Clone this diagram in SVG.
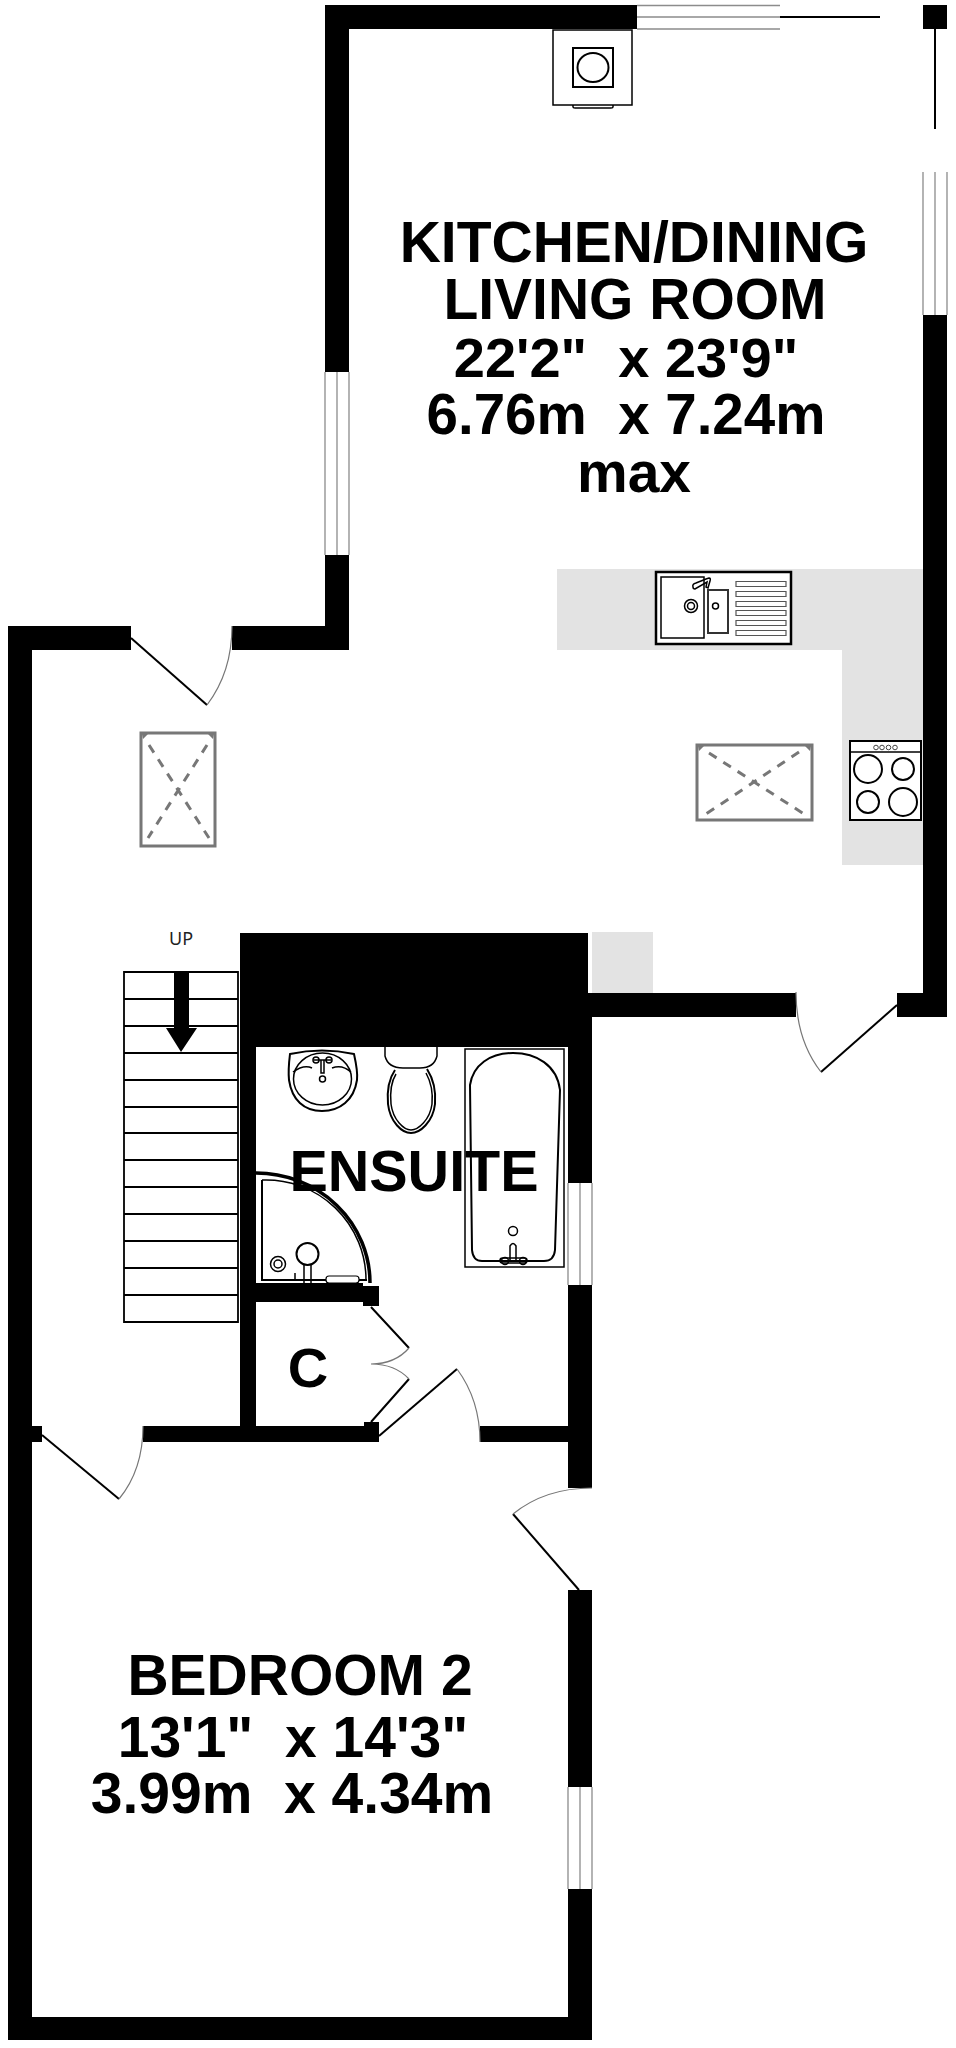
<svg xmlns="http://www.w3.org/2000/svg" width="956" height="2048" viewBox="0 0 956 2048">
<style>
.w{fill:#000}
.g{fill:#e3e3e3}
.win{fill:#fff;stroke:#8c8c8c;stroke-width:1.300}
.leaf{stroke:#000;stroke-width:2;fill:none}
.arc{stroke:#777;stroke-width:1.200;fill:none}
.fx{stroke:#000;stroke-width:1.500;fill:none}
.fxt{stroke:#000;stroke-width:2;fill:none}
.sky{stroke:#777;stroke-width:3;fill:none}
.dash{stroke:#777;stroke-width:3;stroke-dasharray:9 8;fill:none}
text{font-family:"Liberation Sans",Arial,sans-serif;font-weight:700;fill:#000;text-anchor:middle;font-size:56px;white-space:pre}
</style>
<rect width="956" height="2048" fill="#fff"/>
<g id="worktops">
<path class="g" d="M557 569H923V865H842V650H557Z"/>
<rect class="g" x="592" y="932" width="61" height="61"/>
</g>
<g id="walls">
<path class="w" d="M325 5H637V29H349V372H325Z"/>
<path class="w" d="M325 555H349V650H232V626H325Z"/>
<path class="w" d="M8 626H131V650H32V2017H568V1889H592V2040H8Z"/>
<rect class="w" x="32" y="1426" width="10" height="16"/>
<rect class="w" x="923" y="5" width="24" height="24"/>
<path class="w" d="M923 315H947V1017H897V993H923Z"/>
<path class="w" d="M240 933H588V993H796V1017H592V1183H568V1047H256V1283H363V1286H379V1306H363V1302H256V1426H364V1422H379V1442H143V1426H240Z"/>
<rect class="w" x="480" y="1426" width="88" height="16"/>
<path class="w" d="M568 1285H592V1488H568Z"/>
<path class="w" d="M568 1590H592V1787H568Z"/>
</g>
<g id="windows">
<path class="win" d="M325 372V555M349 372V555M337 372V555"/>
<path class="win" d="M637 5.500H780M637 29H780M637 17H780"/>
<path class="win" d="M923 172V315M947 172V315M935 172V315"/>
<path class="win" d="M568 1183V1285M592 1183V1285M580 1183V1285"/>
<path class="win" d="M568 1787V1889M592 1787V1889M580 1787V1889"/>
<path class="leaf" d="M780 17H880M935 29V129"/>
</g>
<g id="doors">
<path class="leaf" d="M131 638L207 705"/><path class="arc" d="M207 705Q232 672 232 626"/>
<path class="leaf" d="M897 1005L821 1072"/><path class="arc" d="M821 1072Q796 1040 796 992"/>
<path class="leaf" d="M42 1435L119 1499"/><path class="arc" d="M119 1499Q143 1470 143 1426"/>
<path class="leaf" d="M379 1436L457 1369"/><path class="arc" d="M457 1369Q480 1400 480 1442"/>
<path class="leaf" d="M579 1590L513 1514"/><path class="arc" d="M513 1514Q545 1488 592 1488"/>
<path class="leaf" d="M371 1307L409 1348M409 1379L371 1422"/><path class="arc" d="M409 1348Q395 1364 371 1364Q395 1364 409 1379"/>
</g>
<g id="stairs">
<path d="M124 972H238V1322H124ZM124 999H238M124 1026H238M124 1053H238M124 1080H238M124 1107H238M124 1133H238M124 1160H238M124 1187H238M124 1214H238M124 1241H238M124 1268H238M124 1295H238" stroke="#000" stroke-width="1.800" fill="#fff"/>
<path class="w" d="M174 972H189V1028H197L181 1052L166 1028H174Z"/>
<text x="181" y="945" style="font-family:'Noto Sans',sans-serif;font-weight:400;font-size:18px;fill:#222">UP</text>
</g>
<g id="boiler">
<rect class="fx" x="553" y="30" width="79" height="75"/>
<rect class="fxt" x="573" y="48" width="40" height="39"/>
<ellipse class="fxt" cx="593" cy="67.500" rx="15.500" ry="14.500"/>
<path class="fx" d="M573 105V107Q573 108 575 108H611Q613 108 613 107V105"/>
</g>
<g id="sink">
<rect x="656" y="572" width="135" height="72" fill="#fff" stroke="#000" stroke-width="2.500"/>
<rect class="fx" x="661" y="577" width="43" height="61"/>
<rect x="708" y="590" width="20" height="43" fill="none" stroke="#333" stroke-width="2"/>
<circle class="fx" cx="691" cy="606" r="6.500"/><circle class="fx" cx="691" cy="606" r="3.500"/>
<circle class="fx" cx="715.500" cy="606" r="3"/>
<path class="fx" d="M693 587Q692 584 696 583L706 579L709 578Q711 578 710 581L708 588L706 587L707 582L695 589Q693 589 693 587Z" fill="#fff"/>
<path stroke="#555" stroke-width="1.200" fill="none" d="M736 581.500h50v5h-50zM736 591.500h50v5h-50zM736 601.500h50v5h-50zM736 610.500h50v5h-50zM736 620.500h50v5h-50zM736 630.500h50v5h-50z"/>
</g>
<g id="hob">
<rect x="850" y="741" width="71" height="79" fill="#fff" stroke="#000" stroke-width="2"/>
<path class="fx" d="M850 752H921"/>
<g stroke="#444" stroke-width="1" fill="none"><circle cx="876" cy="747.500" r="2.300"/><circle cx="882" cy="747.500" r="2.300"/><circle cx="888.500" cy="747.500" r="2.300"/><circle cx="895" cy="747.500" r="2.300"/></g>
<circle class="fxt" cx="868" cy="769" r="14"/><circle class="fxt" cx="903" cy="769" r="11"/>
<circle class="fxt" cx="868" cy="802" r="11"/><circle class="fxt" cx="903" cy="802" r="14"/>
</g>
<g id="skylight-kitchen">
<rect class="sky" x="697" y="745" width="115" height="75"/>
<path class="dash" d="M709 753L804 814M799 752L706 814"/>
<path fill="#777" d="M698 746h6l-5 5zM811 746h-6l5 5z"/>
</g>
<g id="skylight-hall">
<rect class="sky" x="141" y="733" width="74" height="113"/>
<path class="dash" d="M149 745L209 838M207 745L148 838"/>
<path fill="#777" d="M142 734h6l-5 5zM214 734h-6l5 5z"/>
</g>
<g id="basin">
<path class="fxt" d="M290 1054Q322 1047 354 1054Q358 1072 357 1080C354 1100 340 1111 322 1111C304 1111 292 1100 289 1080Q288 1070 290 1054Z"/>
<ellipse class="fx" cx="322.500" cy="1079" rx="29" ry="26"/>
<path class="fx" d="M293 1072Q304 1064 312 1068M332 1068Q342 1064 351 1072"/>
<path class="fx" d="M314 1060H331M321 1060V1073H324V1060"/><circle class="fx" cx="316" cy="1060" r="3"/><circle class="fx" cx="329" cy="1060" r="3"/>
<circle class="fx" cx="322.500" cy="1079" r="3"/>
</g>
<g id="toilet">
<path class="fx" d="M385 1047V1056Q388 1068 403 1068H420Q434 1068 437 1056V1047"/>
<path class="fxt" d="M395 1070C388 1080 387 1092 388 1104C390 1122 402 1133 411 1133C420 1133 433 1122 435 1104C436 1092 434 1080 427 1069"/>
<path class="fx" d="M396 1074C391 1082 390 1093 391 1104C393 1120 404 1130 411 1130C418 1130 430 1120 432 1104C433 1093 431 1082 426 1073"/>
</g>
<g id="bath">
<rect class="fx" x="465" y="1049" width="99" height="218"/>
<path class="fxt" d="M470 1085C473 1065 490 1053 513 1053C536 1053 557 1065 560 1090L555 1250Q554 1261 544 1261H482Q473 1261 472 1250Z"/>
<circle class="fx" cx="513" cy="1231" r="4.500"/>
<path class="fx" d="M510 1260V1246Q513 1241 516 1246V1260" />
<rect class="fx" x="500" y="1258" width="27" height="5" rx="2.500" fill="#fff"/>
<circle class="fx" cx="505" cy="1261" r="3.500"/><circle class="fx" cx="523" cy="1261" r="3.500"/>
</g>
<g id="shower">
<path d="M256 1173A114 110 0 0 1 370 1283" fill="none" stroke="#000" stroke-width="3.500"/>
<path class="fx" d="M262 1180A100 100 0 0 1 366 1280"/>
<path class="fxt" d="M262 1180V1280H367"/>
<circle class="fxt" cx="307.500" cy="1254" r="11"/>
<path class="fx" d="M304 1265V1283M311 1265V1283"/>
<circle class="fx" cx="278" cy="1264" r="7.500"/><circle class="fx" cx="278" cy="1264" r="4"/>
<rect x="326" y="1276" width="33" height="7" rx="3" fill="#fff" stroke="#000" stroke-width="1.200"/>
<path class="fx" d="M295 1273V1280H303"/>
</g>
<g id="labels">
<text x="634" y="262" style="font-size:57px">KITCHEN/DINING</text>
<text x="635" y="319" style="font-size:57px">LIVING ROOM</text>
<text x="626" y="377">22'2"  x 23'9"</text>
<text x="626" y="434" style="font-size:56.500px">6.76m  x 7.24m</text>
<text x="634" y="492" style="font-size:57px">max</text>
<text x="414" y="1191" style="font-size:57.500px">ENSUITE</text>
<text x="308" y="1387">C</text>
<text x="300" y="1695" style="font-size:57px">BEDROOM 2</text>
<text x="293" y="1757" style="font-size:57px">13'1"  x 14'3"</text>
<text x="292" y="1813" style="font-size:57px">3.99m  x 4.34m</text>
</g>
</svg>
